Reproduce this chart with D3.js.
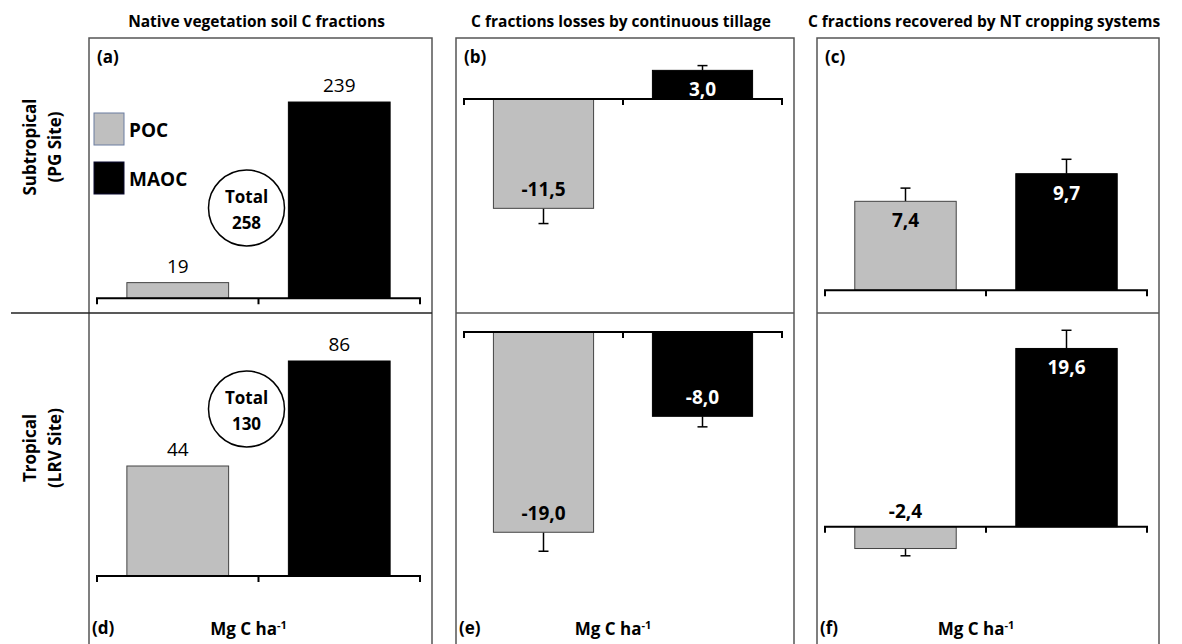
<!DOCTYPE html>
<html>
<head>
<meta charset="utf-8">
<script src="https://cdn.jsdelivr.net/npm/d3@7"></script>
<style>
  body { margin: 0; background: #fff; }
  text { font-family: "Open Sans", "Liberation Sans", sans-serif; }
</style>
</head>
<body>
<script>
// data
const fractions = ["POC", "MAOC"];
const panelLetters = ["(a)", "(b)", "(c)", "(d)", "(e)", "(f)"];
const columnTitles = ["Native vegetation soil C fractions", "C fractions losses by continuous tillage", "C fractions recovered by NT cropping systems"];
const rowLabels = [["Subtropical", "(PG Site)"], ["Tropical", "(LRV Site)"]];
const pocValues = [19, -11.5, 7.4, 44, -19.0, -2.4];
const maocValues = [239, 3.0, 9.7, 86, -8.0, 19.6];
const pocErrors = [0, 1.6, 1.1, 0, 1.8, 0.8];
const maocErrors = [0, 0.5, 1.2, 0, 1.0, 2.0];
const totals = [258, 130];
const yDomains = [[-18, 317], [-22.5, 6.4], [-1.9, 21], [-27.2, 105.2], [-29.6, 1.8], [-12.9, 23.5]];

const W = 1182, H = 644;
const svg = d3.select("body").append("svg").attr("width", W).attr("height", H);

const cols = [{ l: 89, r: 432 }, { l: 456, r: 794 }, { l: 817, r: 1159 }];
const rowsY = [{ t: 38, b: 313 }, { t: 313, b: 644 }];
const colors = { POC: "#bfbfbf", MAOC: "#000" };
// comma decimals and plain hyphen minus, as in the figure
const fmt = v => d3.format(".1f")(v).replace(".", ",").replace("\u2212", "-");

// frames
cols.forEach((c, ci) => {
  svg.append("rect").attr("x", c.l).attr("y", 38).attr("width", c.r - c.l).attr("height", H)
    .attr("fill", "none").attr("stroke", "#555").attr("stroke-width", 1.5);
  svg.append("line").attr("x1", ci === 0 ? 11 : c.l).attr("x2", c.r).attr("y1", 313).attr("y2", 313)
    .attr("stroke", ci === 0 ? "#222" : "#555").attr("stroke-width", 1.5);
  svg.append("text").attr("x", (c.l + c.r) / 2 - 4).attr("y", 27).attr("text-anchor", "middle")
    .attr("font-size", 15.5).attr("font-weight", 700).text(columnTitles[ci]);
});

// row labels
[147, 448].forEach((cy, ri) => {
  rowLabels[ri].forEach((t, k) => {
    svg.append("text").attr("transform", `translate(${36 + k * 25},${cy}) rotate(-90)`)
      .attr("text-anchor", "middle").attr("font-size", 17).attr("font-weight", 700).text(t);
  });
});

for (let i = 0; i < 6; i++) {
  const c = cols[i % 3], r = rowsY[Math.floor(i / 3)];
  const native = i % 3 === 0;
  const g = svg.append("g");
  const x = d3.scaleBand().domain(fractions).range([c.l + 8, c.r - 12]);
  const y = d3.scaleLinear().domain(yDomains[i]).range([r.b, r.t]);
  const y0 = y(0);
  const rows = fractions.map(f => ({
    f,
    v: f === "POC" ? pocValues[i] : maocValues[i],
    e: f === "POC" ? pocErrors[i] : maocErrors[i]
  }));
  const bw = x.bandwidth() * 0.63;
  const cx = d => x(d.f) + x.bandwidth() / 2;

  // error bars
  rows.filter(d => d.e > 0).forEach(d => {
    const s = d.v < 0 ? -1 : 1;
    const ye = y(d.v + s * d.e);
    g.append("line").attr("x1", cx(d)).attr("x2", cx(d)).attr("y1", y(d.v)).attr("y2", ye)
      .attr("stroke", "#000").attr("stroke-width", 1.5);
    g.append("line").attr("x1", cx(d) - 5).attr("x2", cx(d) + 5).attr("y1", ye).attr("y2", ye)
      .attr("stroke", "#000").attr("stroke-width", 1.5);
  });

  // bars
  g.selectAll("rect.bar").data(rows).join("rect").attr("class", "bar")
    .attr("x", d => cx(d) - bw / 2).attr("width", bw)
    .attr("y", d => Math.min(y(d.v), y0)).attr("height", d => Math.abs(y(d.v) - y0))
    .attr("fill", d => colors[d.f]).attr("stroke", d => d.f === "POC" ? "#444" : "#000").attr("stroke-width", 1);

  // axis
  const ax = g.append("g").attr("transform", `translate(0,${y0})`)
    .call(d3.axisBottom(x).tickSize(0).tickFormat(""));
  ax.select(".domain").remove();
  const [a0, a1] = x.range();
  g.append("path").attr("d", `M${a0},${y0 + 6}V${y0}H${a1}V${y0 + 6}M${x("MAOC")},${y0}v6`)
    .attr("fill", "none").attr("stroke", "#000").attr("stroke-width", 2);

  // value labels
  rows.forEach(d => {
    const hpx = Math.abs(y(d.v) - y0);
    let ty, fill = "#000";
    if (native) {
      ty = y(d.v) - 10;
    } else if (hpx < 25) {
      ty = d.v < 0 ? y0 - 9 : y0 + 22;
    } else if (d.v > 0) {
      ty = y(d.v) + 26; fill = d.f === "MAOC" ? "#fff" : "#000";
    } else {
      ty = y(d.v) - 12; fill = d.f === "MAOC" ? "#fff" : "#000";
    }
    g.append("text").attr("x", cx(d)).attr("y", ty).attr("text-anchor", "middle")
      .attr("font-size", 19).attr("font-weight", native ? 400 : 700).attr("fill", fill)
      .text(native ? d3.format("d")(d.v) : fmt(d.v));
  });

  // panel letter
  g.append("text").attr("x", c.l + (i < 3 ? 8 : 3)).attr("y", i < 3 ? r.t + 25 : 634)
    .attr("font-size", 17).attr("font-weight", 700).text(panelLetters[i]);

  if (i >= 3) {
    const t = g.append("text").attr("x", x("MAOC") - 10).attr("y", 635).attr("text-anchor", "middle")
      .attr("font-size", 17).attr("font-weight", 700);
    t.append("tspan").text("Mg C ha");
    t.append("tspan").attr("dy", -6).attr("font-size", 11).text("-1");
  }

  if (native) {
    const ci = i === 0 ? 0 : 1;
    const mx = x("MAOC") - 12;
    const my = i === 0 ? 208 : 409;
    g.append("circle").attr("cx", mx).attr("cy", my).attr("r", 38)
      .attr("fill", "#fff").attr("stroke", "#000").attr("stroke-width", 1.5);
    g.append("text").attr("x", mx).attr("y", my - 5).attr("text-anchor", "middle")
      .attr("font-size", 17).attr("font-weight", 700).text("Total");
    g.append("text").attr("x", mx).attr("y", my + 21).attr("text-anchor", "middle")
      .attr("font-size", 17).attr("font-weight", 700).text(totals[ci]);
  }
}

// legend in panel (a)
const leg = svg.append("g").attr("transform", "translate(94,113)");
fractions.forEach((f, k) => {
  leg.append("rect").attr("x", 0).attr("y", k * 49).attr("width", 30).attr("height", 32)
    .attr("fill", colors[f]).attr("stroke", f === "POC" ? "#6b7da0" : "#0a0a30").attr("stroke-width", 1);
  leg.append("text").attr("x", 35).attr("y", k * 49 + 24).attr("font-size", 19).attr("font-weight", 700).text(f);
});
</script>
</body>
</html>
